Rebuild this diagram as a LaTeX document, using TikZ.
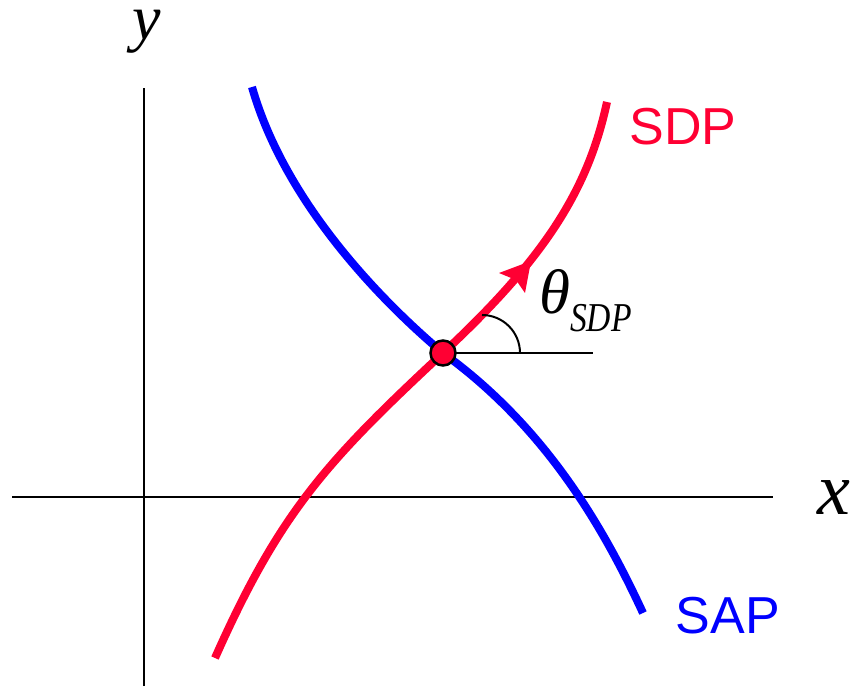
\documentclass[tikz,border=0pt]{standalone}
\usepackage{fontspec}
\setmainfont{Liberation Serif}
\newfontfamily\labelsans{Liberation Sans}
\definecolor{sdpred}{RGB}{255,0,51}
\definecolor{sapblue}{RGB}{0,0,255}
\begin{document}
\begin{tikzpicture}[x=1pt,y=1pt,
  axis/.style={line width=2pt,black},
  curve/.style={line width=8pt,line cap=butt},
  thin/.style={line width=2pt,black},
  curvelabel/.style={inner sep=0pt,font=\labelsans\fontsize{52}{52}\selectfont},
  axislabel/.style={inner sep=0pt}]
\useasboundingbox (0,0) rectangle (852,686);
% axes
\coordinate (ytop) at (144,598);
\coordinate (ybot) at (144,0);
\coordinate (xl) at (12,189);
\coordinate (xr) at (773,189);
\draw[axis] (ybot) -- (ytop);
\draw[axis] (xl) -- (xr);
% intersection point
\coordinate (P) at (443,333);
% SAP curve (blue)
\coordinate (sapstart) at (252,599);
\coordinate (sapend) at (643,73);
\draw[curve,sapblue] (sapstart) .. controls (289,469) and (405,365) .. (P)
  .. controls (548,257) and (605,155) .. (sapend);
% SDP curve (red)
\coordinate (sdpstart) at (215,28);
\coordinate (sdpend) at (607,584);
\draw[curve,sdpred] (sdpstart) .. controls (280,174) and (326,224) .. (P)
  .. controls (545,428) and (588,496) .. (sdpend);
% arrow head on SDP
\fill[sdpred] (531,425) -- (499,413) -- (516,406) -- (525,393) -- cycle;
% angle reference line and arc
\coordinate (href) at (593,333);
\draw[thin] (P) -- (href);
\draw[thin] (482,371) arc[start angle=90,end angle=0,radius=38pt];
% point
\fill[sdpred,draw=black,line width=2.5pt] (P) circle[radius=12.5pt];
% labels
\node[axislabel,anchor=base] (ylab) at (147,646) {\fontsize{64}{64}\selectfont\itshape y};
\node[axislabel,anchor=base west] (xlab) at (817,171) {\fontsize{74}{74}\selectfont\itshape x};
\node[axislabel,anchor=base west] (theta) at (539,372) {\fontsize{63}{63}\selectfont\itshape θ\raisebox{-18pt}{\scalebox{0.82}[1]{\fontsize{41}{41}\selectfont SDP}}};
\node[curvelabel,text=sdpred] (sdp) at (683,559) {SDP};
\node[curvelabel,text=sapblue] (sap) at (728,70) {SAP};
\end{tikzpicture}
\end{document}
